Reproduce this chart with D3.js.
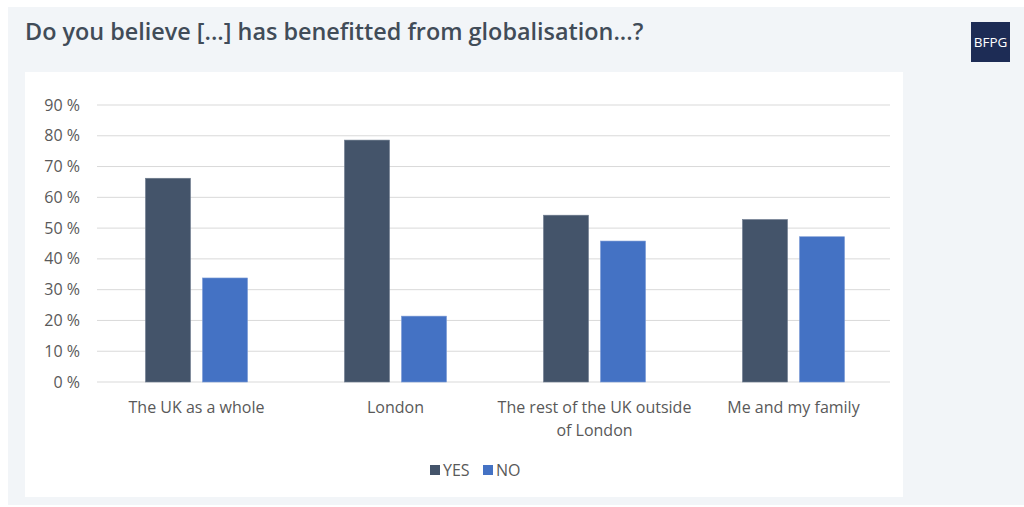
<!DOCTYPE html>
<html><head><meta charset="utf-8">
<script src="https://cdn.jsdelivr.net/npm/d3@7"></script>
<style>body{margin:0;background:#fff;font-family:"Open Sans",sans-serif;}</style>
</head><body>
<svg id="c" width="1024" height="507"></svg>
<script>
const categories = ["The UK as a whole", "London", "The rest of the UK outside of London", "Me and my family"];
const categoryLines = [["The UK as a whole"], ["London"], ["The rest of the UK outside", "of London"], ["Me and my family"]];
const seriesNames = ["YES", "NO"];
const yesValues = [66.2, 78.6, 54.2, 52.8];
const noValues = [33.8, 21.4, 45.8, 47.2];
const yTicks = [0, 10, 20, 30, 40, 50, 60, 70, 80, 90];
const colors = ["#44546a", "#4472c4"];

const svg = d3.select("#c");
svg.append("rect").attr("x", 8).attr("y", 7).attr("width", 1016).attr("height", 498).attr("fill", "#f2f5f8");
svg.append("rect").attr("x", 25).attr("y", 72).attr("width", 878).attr("height", 425).attr("fill", "#ffffff");

svg.append("text").attr("x", 25).attr("y", 40).attr("font-size", 23.4).attr("font-weight", 600)
  .attr("fill", "#414c58").text("Do you believe [...] has benefitted from globalisation...?");
svg.append("rect").attr("x", 971).attr("y", 22).attr("width", 39).attr("height", 40).attr("fill", "#1d2c55");
svg.append("text").attr("x", 990.5).attr("y", 47).attr("text-anchor", "middle").attr("font-size", 13.5)
  .attr("fill", "#fff").text("BFPG");

const x = d3.scaleBand().domain(categories).range([97, 893]);
const inner = d3.scaleBand().domain(seriesNames).range([0, x.bandwidth()]).paddingInner(0.21).paddingOuter(0.85);
const y = d3.scaleLinear().domain([0, 90]).range([382, 105]);

const g = svg.append("g");
g.selectAll("line.grid").data(yTicks).join("line")
  .attr("x1", 97).attr("x2", 890).attr("y1", d => y(d)).attr("y2", d => y(d))
  .attr("stroke", "#d9d9d9").attr("stroke-width", 1);
g.selectAll("text.yt").data(yTicks).join("text")
  .attr("x", 80).attr("y", d => y(d) + 5.5).attr("text-anchor", "end").attr("font-size", 16)
  .attr("fill", "#595959").text(d => d + " %");

const data = categories.map((c, i) => ({c, vals: [yesValues[i], noValues[i]]}));
data.forEach(d => {
  d.vals.forEach((v, j) => {
    g.append("rect")
      .attr("x", x(d.c) + inner(seriesNames[j]))
      .attr("y", y(v)).attr("width", inner.bandwidth()).attr("height", y(0) - y(v))
      .attr("fill", colors[j]).attr("stroke", j === 0 ? "#6f7d90" : "#7b9bd6").attr("stroke-width", 0.6);
  });
});

categories.forEach((c, i) => {
  const t = g.append("text").attr("text-anchor", "middle").attr("font-size", 16).attr("fill", "#595959");
  categoryLines[i].forEach((ln, k) => {
    t.append("tspan").attr("x", x(c) + x.bandwidth() / 2).attr("y", 413 + k * 23).text(ln);
  });
});

const legend = [{n: "YES", x: 430}, {n: "NO", x: 483}];
legend.forEach((l, j) => {
  g.append("rect").attr("x", l.x).attr("y", 465).attr("width", 10).attr("height", 10).attr("fill", colors[j]);
  g.append("text").attr("x", l.x + 13).attr("y", 476).attr("font-size", 16).attr("fill", "#595959").text(l.n);
});
</script>
</body></html>
